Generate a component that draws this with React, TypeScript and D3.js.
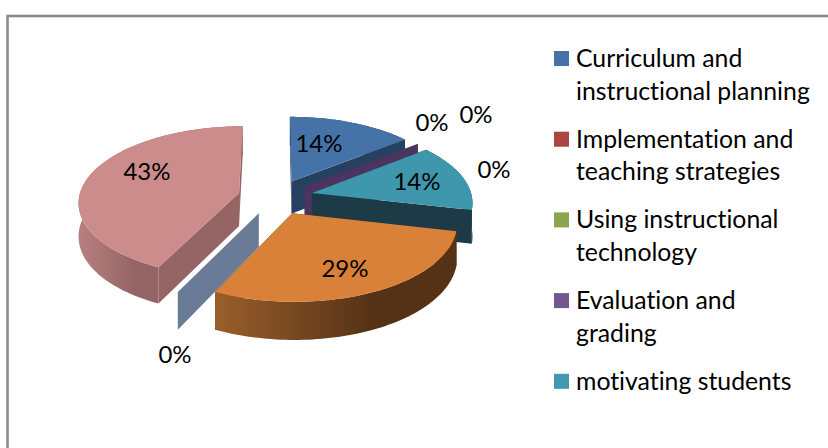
import React from "react";
import * as d3 from "d3";

const sliceNames = ["Curriculum and instructional planning", "Implementation and teaching strategies", "Using instructional technology", "Evaluation and grading", "motivating students", "Other A", "Other B", "Other C"];
const sliceValues = [1, 0, 0, 0, 1, 2, 0, 3];
const percentLabels = ["14%", "0%", "0%", "0%", "14%", "29%", "0%", "43%"];
const topColors = ["#4573a7", "#aa4644", "#89a54e", "#4a3560", "#3f97ae", "#d98138", "#6a7b97", "#cd8c8c"];
const wallColors = ["#254061", "#6d2c2b", "#566a31", "#4a3560", "#1c3b46", "#553216", "#6a7b97", "#956565"];
const arcWallFrom = ["#254061", "#6d2c2b", "#566a31", "#4a3560", "#1c3b46", "#9a5f2b", "#6a7b97", "#b88080"];
const arcWallTo = ["#254061", "#6d2c2b", "#566a31", "#4a3560", "#1c3b46", "#553216", "#6a7b97", "#956565"];
const legendLines = [["Curriculum and", "instructional planning"], ["Implementation and", "teaching strategies"], ["Using instructional", "technology"], ["Evaluation and", "grading"], ["motivating students"]];
const legendColors = ["#4573a7", "#aa4644", "#89a54e", "#71588f", "#4198af"];

const labelX = [319, 432, 476, 494, 417, 345, 175, 147];
const labelY = [142, 121, 113, 168, 180, 267, 353, 170];
const drawOrder = [7, 0, 1, 2, 3, 4, 6, 5];

const CX = 275.5, CY = 197, RX = 160, RY = 75, PERSP = 0.11, DEPTH = 33, EXPLODE = 0.235;
const FONT = "Lato, Carlito, sans-serif";

const pieAngles = d3.pie<number>().sort(null).value((d) => d)(sliceValues);

function project(X: number, Z: number, h: number): [number, number] {
  const s = 1 / (1 + PERSP * Z);
  return [CX + RX * X * s, CY - RY * Z * s + h * s];
}
const lineGen = d3.line<[number, number]>();

function slicePaths(i: number) {
  const a0 = pieAngles[i].startAngle, a1 = pieAngles[i].endAngle;
  const m = (a0 + a1) / 2;
  const ox = EXPLODE * Math.sin(m), oz = EXPLODE * Math.cos(m);
  const at = (t: number, h: number, r = 1) => project(ox + r * Math.sin(t), oz + r * Math.cos(t), h);
  const n = Math.max(2, Math.ceil((a1 - a0) * 40));
  const ts = d3.range(n + 1).map((k) => a0 + ((a1 - a0) * k) / n);
  const top = [at(a0, 0, 0), ...ts.map((t) => at(t, 0))];
  const outer = [...ts.map((t) => at(t, 0)), ...ts.slice().reverse().map((t) => at(t, DEPTH))];
  const cut = (t: number) => [at(t, 0, 0), at(t, 0), at(t, DEPTH), at(t, DEPTH, 0)] as [number, number][];
  const xs = outer.map((p) => p[0]);
  return {
    top: lineGen(top) + "Z",
    outer: lineGen(outer) + "Z",
    cutA: lineGen(cut(a0)) + "Z",
    cutB: lineGen(cut(a1)) + "Z",
    x0: d3.min(xs) as number,
    x1: d3.max(xs) as number,
    zero: sliceValues[i] === 0,
  };
}

export default function App() {
  return (
    <svg width={828} height={448} style={{ position: "fixed", left: 0, top: 0, background: "#fff", fontVariantLigatures: "none" }} fontFamily={FONT}>
      <rect x={7.5} y={16} width={900} height={600} fill="#fff" stroke="#8a8a8a" strokeWidth={2.6} />
      <defs>
        {drawOrder.map((i) => {
          const p = slicePaths(i);
          return (
            <linearGradient key={i} id={`wall${i}`} gradientUnits="userSpaceOnUse" x1={p.x0} x2={i === 7 ? p.x0 + 85 : p.x1} y1={0} y2={0}>
              <stop offset="0" stopColor={arcWallFrom[i]} />
              <stop offset="0.65" stopColor={arcWallTo[i]} />
              <stop offset="1" stopColor={arcWallTo[i]} />
            </linearGradient>
          );
        })}
      </defs>
      {drawOrder.map((i) => {
        const p = slicePaths(i);
        if (p.zero) return i === 1 || i === 2 ? null : <path key={i} d={p.cutA} fill={wallColors[i]} />;
        return (
          <g key={i}>
            <path d={p.cutA} fill={wallColors[i]} />
            <path d={p.cutB} fill={wallColors[i]} />
            <path d={p.outer} fill={`url(#wall${i})`} />
            <path d={p.top} fill={topColors[i]} />
          </g>
        );
      })}
      {percentLabels.map((t, i) => (
        <text key={i} x={labelX[i]} y={labelY[i]} textAnchor="middle" dominantBaseline="central" fontSize={24} fill="#000">{t}</text>
      ))}
      {legendLines.map((lines, i) => {
        const top = 51 + i * 80.7;
        return (
          <g key={i}>
            <rect x={554} y={top} width={15} height={15} fill={legendColors[i]} />
            {lines.map((l, j) => (
              <text key={j} x={576} y={top + 16 + j * 32.5} fontSize={24.8} fill="#000">{l}</text>
            ))}
          </g>
        );
      })}
    </svg>
  );
}
